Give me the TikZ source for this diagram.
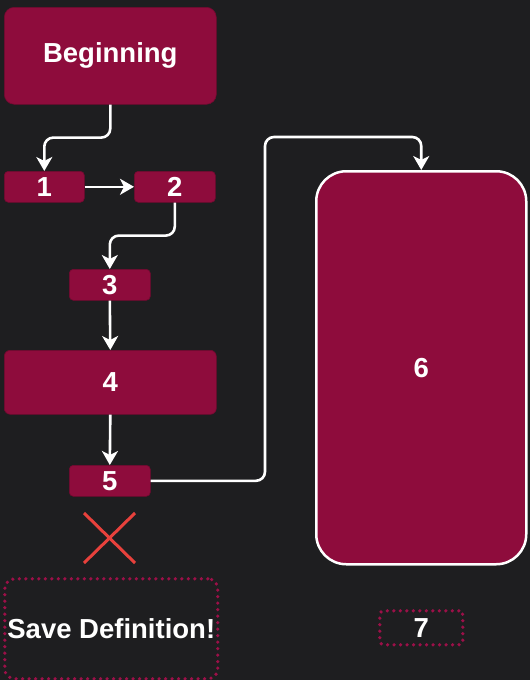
\documentclass[tikz,border=0pt]{standalone}
\usepackage{fontspec}
\setmainfont{Liberation Sans}
\usetikzlibrary{arrows.meta}
\definecolor{bg}{HTML}{1E1E20}
\definecolor{box}{HTML}{8E0C3C}
\definecolor{dotc}{HTML}{9C1048}
\definecolor{xred}{HTML}{E8413C}
\tikzset{
  lbl/.style={font=\fontsize{27.5}{32}\selectfont\bfseries},
  pbox/.style={fill=box, draw=box!80!black, line width=0.6pt, rounded corners=4pt, text=white, lbl, inner sep=0pt, anchor=north west},
  conn/.style={draw=white, line width=2.6pt, rounded corners=9pt, -{Stealth[length=14pt,width=16pt,inset=4pt]}},
  dotbox/.style={draw=dotc, line width=3.6pt, dash pattern=on 0pt off 6.5pt, line cap=round, rounded corners=10pt, text=white, lbl, inner sep=0pt, anchor=north west}
}
\begin{document}
\begin{tikzpicture}[x=1pt,y=-1pt]
\fill[bg] (0,0) rectangle (530,680);
\useasboundingbox (0,0) rectangle (530,680);
\node[pbox, rounded corners=10pt, minimum width=212pt, minimum height=97pt] (b) at (4,7) {Beginning};
\node[pbox, minimum width=80pt, minimum height=31pt] (n1) at (4,171) {1};
\node[pbox, minimum width=81pt, minimum height=31pt] (n2) at (134,171) {2};
\node[pbox, minimum width=81pt, minimum height=31pt] (n3) at (69,269) {3};
\node[pbox, rounded corners=6pt, minimum width=212pt, minimum height=64pt] (n4) at (4,350) {4};
\node[pbox, minimum width=81pt, minimum height=31pt] (n5) at (69,465) {5};
\node[pbox, draw=white, line width=2.5pt, rounded corners=30pt, minimum width=210pt, minimum height=393pt] (n6) at (315,170) {6};
\node[dotbox, minimum width=213pt, minimum height=100pt] (sd) at (3,577) {Save Definition!};
\node[dotbox, rounded corners=4pt, minimum width=83pt, minimum height=34pt] (n7) at (378,609) {7};
\draw[xred, line width=3pt] (84,513) coordinate (xa) -- (135,563) coordinate (xb);
\draw[xred, line width=3pt] (135,513) coordinate (xc) -- (84,563) coordinate (xd);
\coordinate (c5) at (265,137);
\draw[conn] (b.south) -- ++(0,33) -| (n1.north);
\draw[conn, rounded corners=0pt] (n1.east) -- (n2.west);
\draw[conn] (n2.south) -- ++(0,33) -| (n3.north);
\draw[conn] (n3.south) -- (n4.north);
\draw[conn] (n4.south) -- (n5.north);
\draw[conn] (n5.east) -| (c5) -| (n6.north);
\end{tikzpicture}
\end{document}
